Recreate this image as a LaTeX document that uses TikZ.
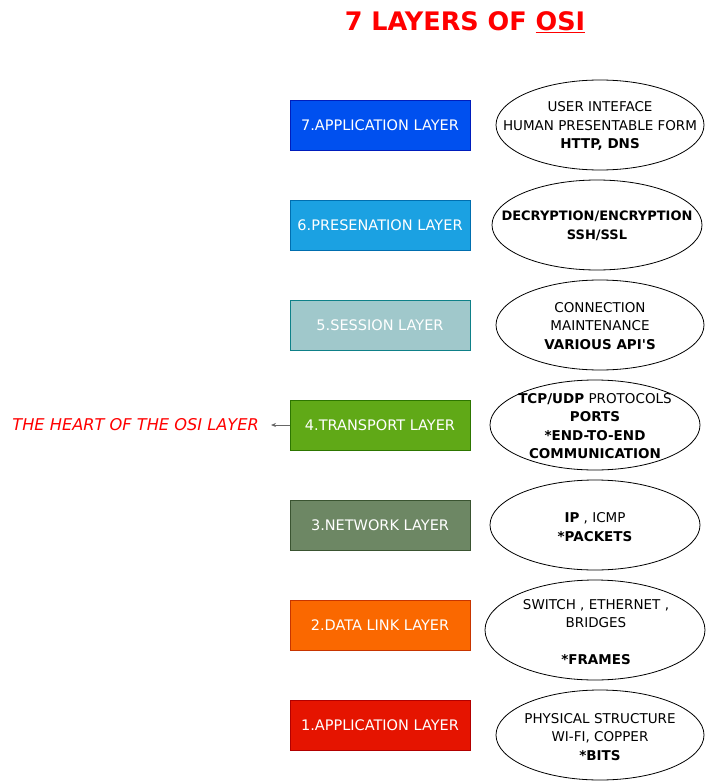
\documentclass[tikz,border=0pt]{standalone}
\usepackage{fontspec}
\setmainfont{DejaVu Sans}
\usetikzlibrary{shapes.geometric,arrows.meta}
\definecolor{c7}{HTML}{0050EF}\definecolor{b7}{HTML}{001DBC}
\definecolor{c6}{HTML}{1BA1E2}\definecolor{b6}{HTML}{006EAF}
\definecolor{c5}{HTML}{A0C8CB}\definecolor{b5}{HTML}{0E8088}
\definecolor{c4}{HTML}{60A917}\definecolor{b4}{HTML}{2D7600}
\definecolor{c3}{HTML}{6D8764}\definecolor{b3}{HTML}{3A5431}
\definecolor{c2}{HTML}{FA6800}\definecolor{b2}{HTML}{C73500}
\definecolor{c1}{HTML}{E51400}\definecolor{b1}{HTML}{B20000}
\definecolor{titlered}{HTML}{FF0000}
\tikzset{
  layerbox/.style={rectangle, minimum width=180, minimum height=50, inner sep=0,
    text=white, font=\fontsize{14.5}{16}\selectfont, line width=0.8pt},
  oval/.style={ellipse, draw=black, line width=0.8pt, inner sep=0, fill=white},
  ovaltext/.style={align=center, inner sep=0, font=\fontsize{13.5}{18.5}\selectfont},
}
\begin{document}
\begin{tikzpicture}[x=1pt,y=-1pt]
\useasboundingbox (0,0) rectangle (706,781);
% title
\node[text=titlered, font=\fontsize{25.5}{28}\selectfont\bfseries] (title) at (465,22)
  {7 LAYERS OF \underline{OSI}};
% layer boxes
\node[layerbox, fill=c7, draw=b7] (r7) at (380,125) {7.APPLICATION LAYER};
\node[layerbox, fill=c6, draw=b6] (r6) at (380,225) {6.PRESENATION LAYER};
\node[layerbox, fill=c5, draw=b5] (r5) at (380,325) {5.SESSION LAYER};
\node[layerbox, fill=c4, draw=b4] (r4) at (380,425) {4.TRANSPORT LAYER};
\node[layerbox, fill=c3, draw=b3] (r3) at (380,525) {3.NETWORK LAYER};
\node[layerbox, fill=c2, draw=b2] (r2) at (380,625) {2.DATA LINK LAYER};
\node[layerbox, fill=c1, draw=b1] (r1) at (380,725) {1.APPLICATION LAYER};
% ellipses
\node[oval, minimum width=208, minimum height=90] (e7) at (600,125) {};
\node[oval, minimum width=210, minimum height=90] (e6) at (597,225) {};
\node[oval, minimum width=208, minimum height=90] (e5) at (600,325) {};
\node[oval, minimum width=210, minimum height=90] (e4) at (595,425) {};
\node[oval, minimum width=210, minimum height=90] (e3) at (595,525) {};
\node[oval, minimum width=220, minimum height=100] (e2) at (595,630) {};
\node[oval, minimum width=208, minimum height=90] (e1) at (600,735) {};
% ellipse texts
\node[ovaltext] (t7) at (600,126) {USER INTEFACE\\HUMAN PRESENTABLE FORM\\\textbf{HTTP, DNS}};
\node[ovaltext, font=\fontsize{13}{19.5}\selectfont\bfseries] (t6) at (597,226) {DECRYPTION/ENCRYPTION\\SSH/SSL};
\node[ovaltext] (t5) at (600,326) {CONNECTION\\MAINTENANCE\\\textbf{VARIOUS API\textquotesingle S}};
\node[ovaltext] (t4) at (595,426) {\textbf{TCP/UDP} PROTOCOLS\\\textbf{PORTS}\\\textbf{*END-TO-END}\\\textbf{COMMUNICATION}};
\node[ovaltext] (t3) at (595,527) {\textbf{IP} , ICMP\\\textbf{*PACKETS}};
\node[ovaltext] (t2) at (596,632) {SWITCH , ETHERNET ,\\BRIDGES\\[18.5pt]\textbf{*FRAMES}};
\node[ovaltext] (t1) at (600,737) {PHYSICAL STRUCTURE\\WI-FI, COPPER\\\textbf{*BITS}};
% heart label and arrow
\node[anchor=east, inner sep=0, text=titlered, font=\fontsize{16.2}{18}\selectfont\itshape] (heart) at (259,425) {THE HEART OF THE OSI LAYER};
\coordinate (tip) at (271,425);
\draw[-{Stealth[length=5pt,width=4pt]}, draw=black!60, line width=0.8pt] (r4.west) -- (tip);
\end{tikzpicture}
\end{document}
